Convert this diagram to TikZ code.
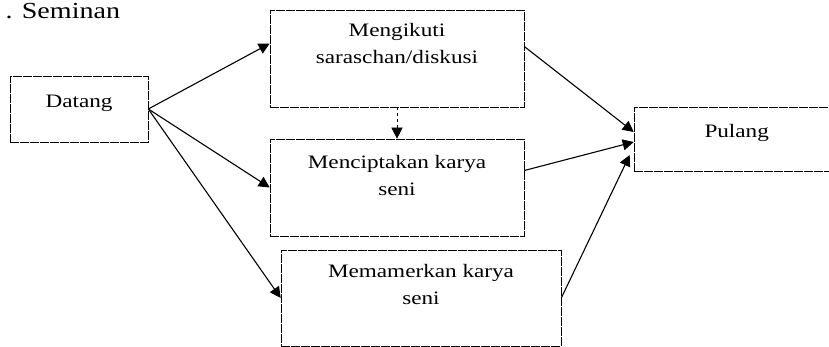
\documentclass[tikz,border=0pt]{standalone}
\usepackage{fontspec}
\setmainfont{Liberation Serif}[FakeStretch=1.22]
\usetikzlibrary{arrows.meta}

\begin{document}
\begin{tikzpicture}[x=1pt, y=-1pt,
        box/.style={draw, rectangle, inner sep=0pt, line width=0.6pt, dash pattern=on 9pt off 1pt},
        txt/.style={font=\fontsize{19}{27}\selectfont, align=center, anchor=base},
        flow/.style={line width=1.1pt, -{Triangle[length=11pt,width=11pt]}}]

        \useasboundingbox (0,0) rectangle (829,347);

        \node[font=\fontsize{23}{28}\selectfont, anchor=base west] (judul) at (2,19) {. Seminan};

        \node[box, minimum width=138pt, minimum height=66pt] (datang) at (79,109) {};
        \node[box, minimum width=254pt, minimum height=97pt] (ikut) at (397,58.5) {};
        \node[box, minimum width=254pt, minimum height=97pt] (cipta) at (397,187.5) {};
        \node[box, minimum width=280pt, minimum height=96pt] (pamer) at (421,298) {};
        \node[box, minimum width=220pt, minimum height=64pt] (pulang) at (744,139) {};

        \node[txt] at ([yshift=-32pt]datang.north) {Datang};
        \node[txt] at ([yshift=-54pt]ikut.north) {Mengikuti\\saraschan/diskusi};
        \node[txt] at ([yshift=-57pt]cipta.north) {Menciptakan karya\\seni};
        \node[txt] at ([yshift=-55pt]pamer.north) {Memamerkan karya\\seni};
        \node[txt] at ([xshift=103pt, yshift=-31pt]pulang.north west) {Pulang};

        \draw[flow] (datang.east) -- ([yshift=15pt]ikut.west);
        \draw[flow] (datang.east) -- (cipta.west);
        \draw[flow] (datang.east) -- (pamer.west);
        \draw[flow, line width=0.6pt, dashed] (ikut.south) -- (cipta.north);

        \draw[flow] ([yshift=12pt]ikut.east) -- ([yshift=7pt]pulang.west);
        \draw[flow] ([yshift=17pt]cipta.east) -- ([yshift=-3pt]pulang.west);
        \draw[flow] (pamer.east) -- ([xshift=-4pt, yshift=-16pt]pulang.west);

\end{tikzpicture}
\end{document}
